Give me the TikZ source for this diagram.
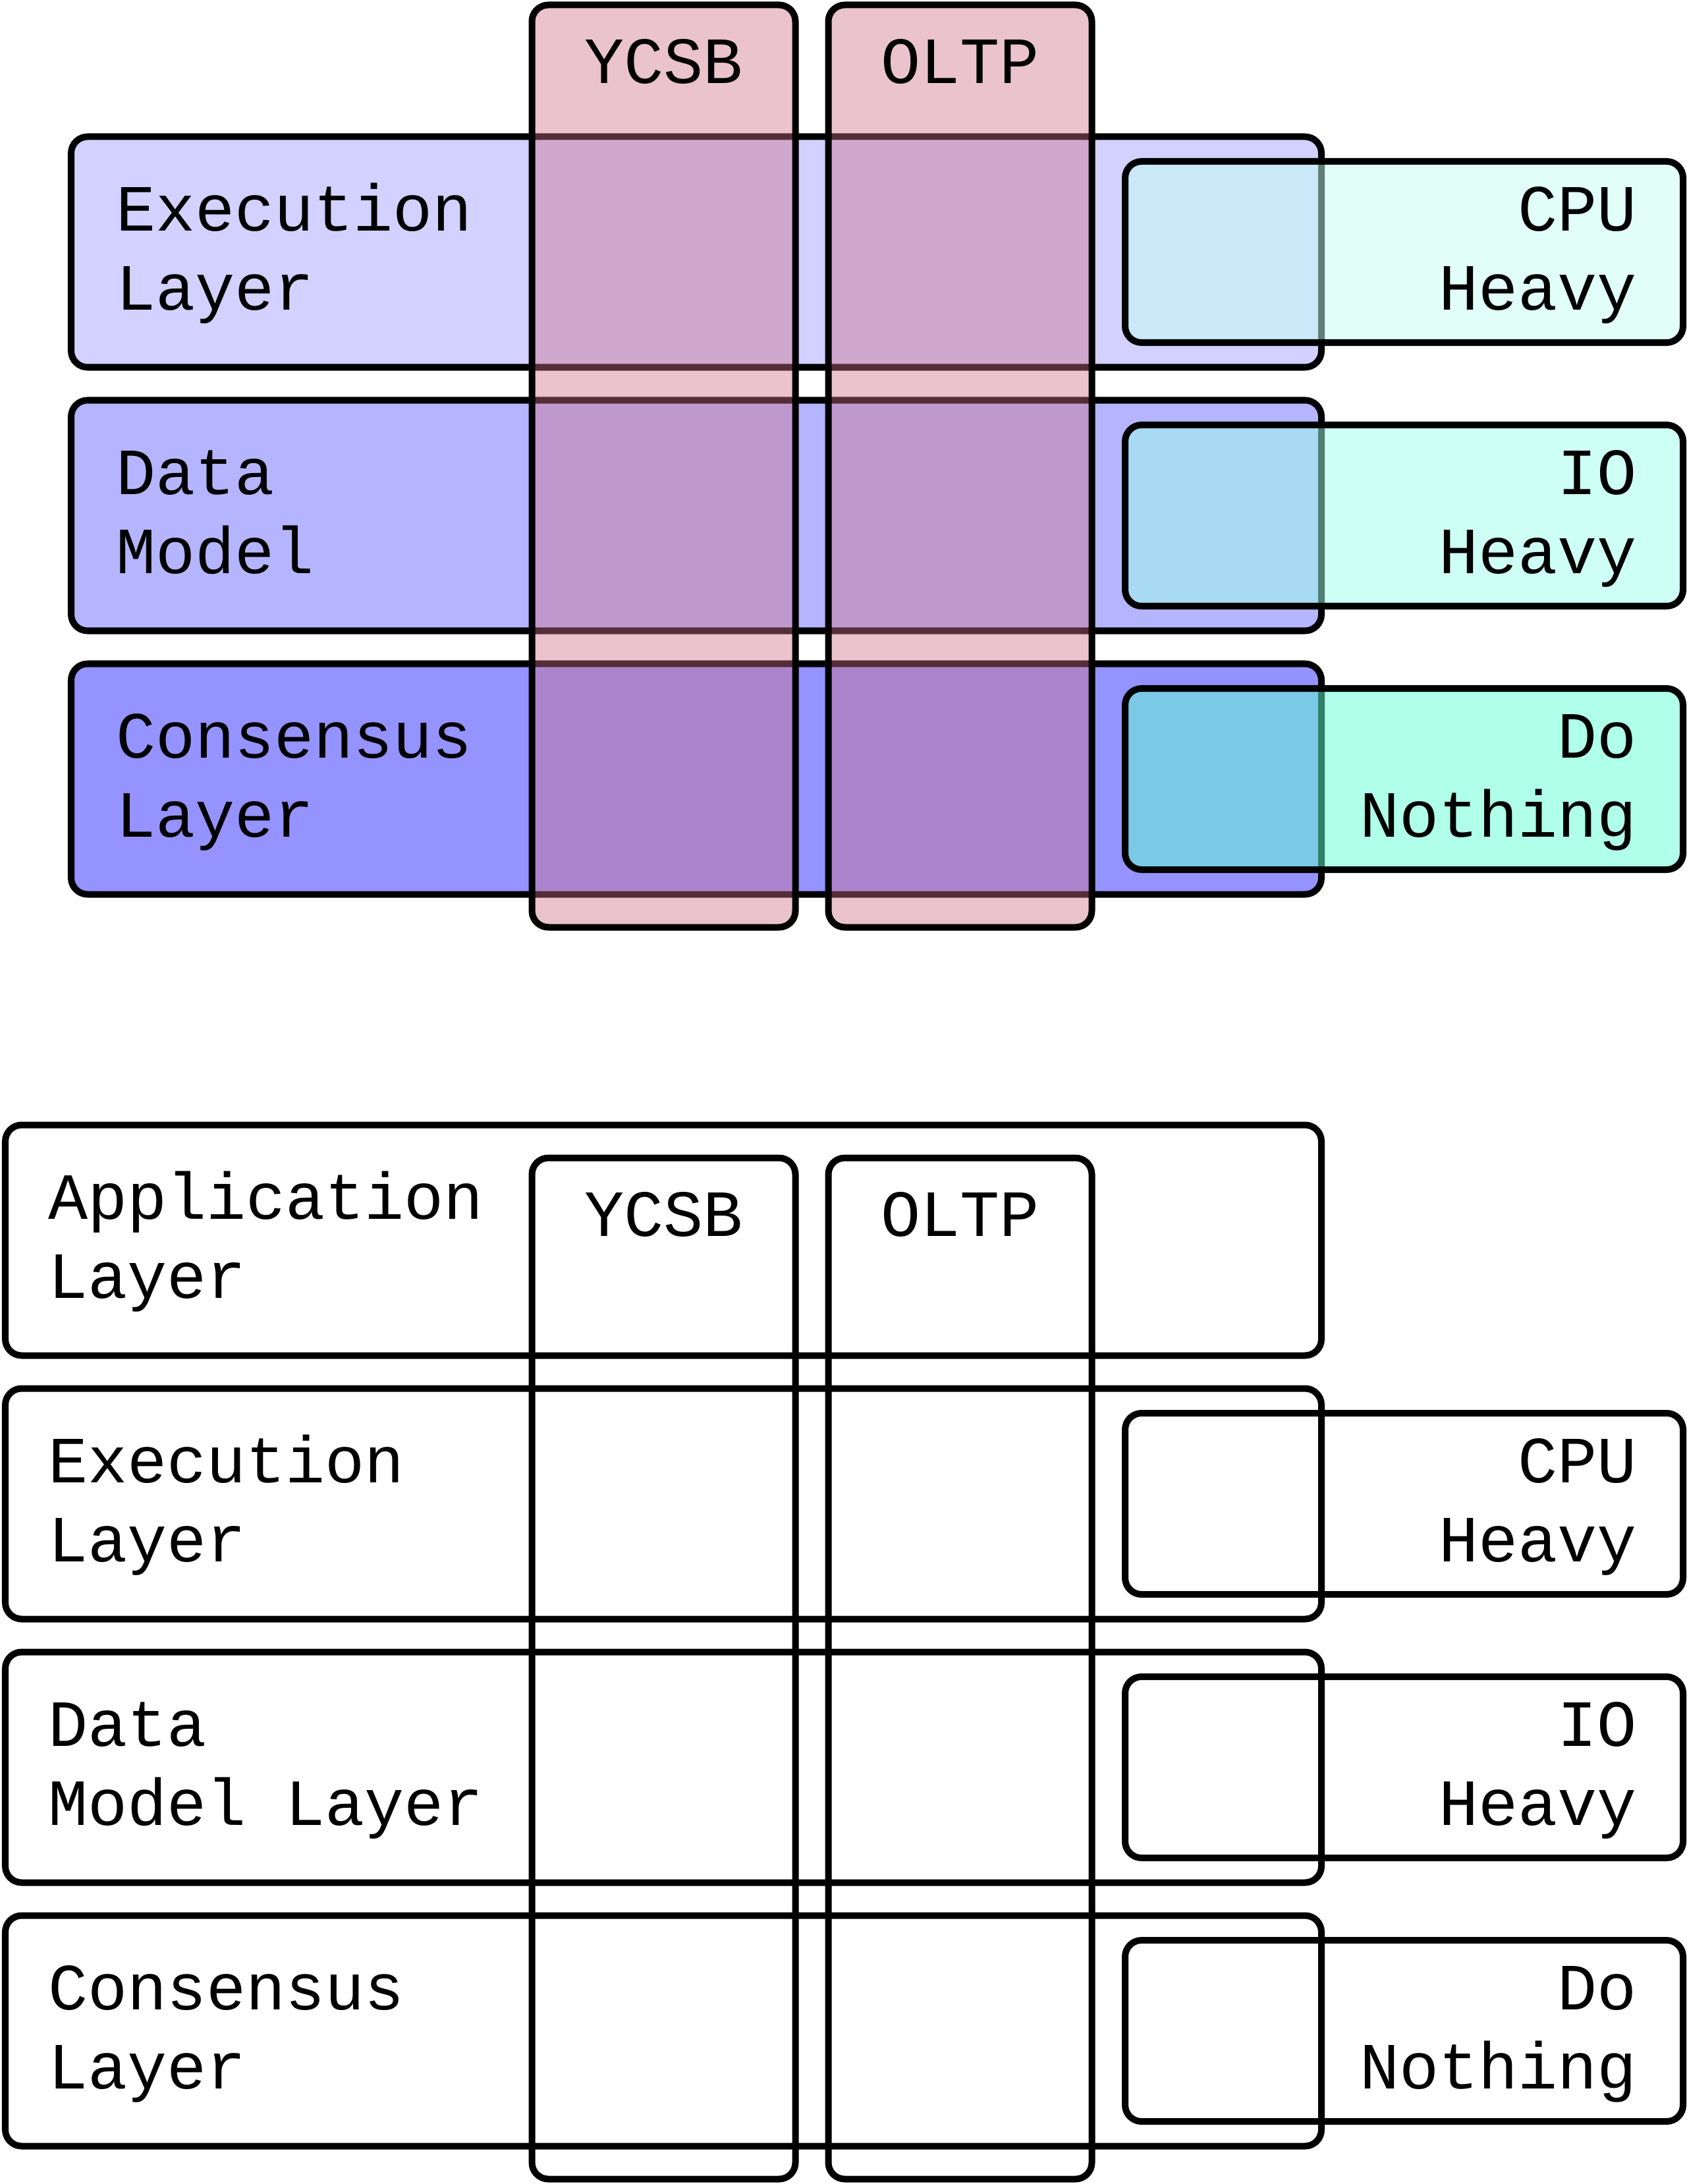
\documentclass[tikz,border=0pt]{standalone}
\usepackage{fontspec}
\setmonofont{Liberation Mono}
\usetikzlibrary{positioning}
\definecolor{LayerLight}{HTML}{D3D1FF}
\definecolor{LayerMid}{HTML}{B5B5FF}
\definecolor{LayerDark}{HTML}{9593FF}
\definecolor{BenchPink}{HTML}{CD7088}
\definecolor{LoadCPU}{HTML}{C3FFF1}
\definecolor{LoadIO}{HTML}{9DFFE9}
\definecolor{LoadNone}{HTML}{61FFD1}
\newcommand{\lblstrut}{\rule[-8.5pt]{0pt}{33pt}}
\tikzset{
  roundBox/.style={draw=black, line width=2.85pt, rounded corners=0.25cm, inner sep=0pt, outer sep=0pt},
  layerBox/.style={roundBox, minimum height=3.5cm},
  benchBox/.style={roundBox, minimum width=4cm},
  benchTop/.style={fill=BenchPink, fill opacity=0.42},
  loadBox/.style={roundBox, minimum width=8.47cm, minimum height=2.75cm},
  loadTop/.style={fill opacity=0.5},
  monoText/.style={font=\ttfamily\fontsize{28.5pt}{34.1pt}\selectfont, inner sep=0pt, outer sep=0pt},
  layerText/.style={monoText, text width=7.5cm, align=left, execute at begin node={\spaceskip=0pt\xspaceskip=0pt\relax\lblstrut}, execute at end node=\lblstrut},
  loadText/.style={layerText, align=right},
  benchText/.style={monoText}
}

\begin{document}
\begin{tikzpicture}
  \useasboundingbox (0,0) rectangle (25.6,-33.15);

  % Upper stack: layers
  \node[layerBox, minimum width=18.98cm, fill=LayerLight] (execT) at (10.57,-3.825) {};
  \node[layerBox, minimum width=18.98cm, fill=LayerMid, below=0.5cm of execT] (dataT) {};
  \node[layerBox, minimum width=18.98cm, fill=LayerDark, below=0.5cm of dataT] (consT) {};
  \node[layerText, right=0.68cm of execT.west] (execTL) {Execution\\Layer};
  \node[layerText, right=0.68cm of dataT.west] (dataTL) {Data\\Model};
  \node[layerText, right=0.68cm of consT.west] (consTL) {Consensus\\Layer};

  % Upper stack: benchmarks
  \node[benchBox, benchTop, minimum height=14cm] (ycsbT) at (10.075,-7.075) {};
  \node[benchBox, benchTop, minimum height=14cm, right=0.5cm of ycsbT] (oltpT) {};
  \node[benchText, below=0.52cm of ycsbT.north] (ycsbTL) {YCSB};
  \node[benchText, below=0.52cm of oltpT.north] (oltpTL) {OLTP};

  % Upper stack: workloads
  \node[loadBox, loadTop, fill=LoadCPU] (cpuT) at (21.315,-3.825) {};
  \node[loadBox, loadTop, fill=LoadIO] (ioT) at (21.315,-7.825) {};
  \node[loadBox, loadTop, fill=LoadNone] (nothingT) at (21.315,-11.825) {};
  \node[loadText, left=0.7cm of cpuT.east] (cpuTL) {CPU\\Heavy};
  \node[loadText, left=0.7cm of ioT.east] (ioTL) {IO\\Heavy};
  \node[loadText, left=0.7cm of nothingT.east] (nothingTL) {Do\\Nothing};

  % Lower stack: layers
  \node[layerBox, minimum width=19.98cm] (appB) at (10.07,-18.825) {};
  \node[layerBox, minimum width=19.98cm, below=0.5cm of appB] (execB) {};
  \node[layerBox, minimum width=19.98cm, below=0.5cm of execB] (dataB) {};
  \node[layerBox, minimum width=19.98cm, below=0.5cm of dataB] (consB) {};
  \node[layerText, right=0.65cm of appB.west] (appBL) {Application\\Layer};
  \node[layerText, right=0.65cm of execB.west] (execBL) {Execution\\Layer};
  \node[layerText, right=0.65cm of dataB.west] (dataBL) {Data\\Model Layer};
  \node[layerText, right=0.65cm of consB.west] (consBL) {Consensus\\Layer};

  % Lower stack: benchmarks
  \node[benchBox, minimum height=15.5cm] (ycsbB) at (10.075,-25.325) {};
  \node[benchBox, minimum height=15.5cm, right=0.5cm of ycsbB] (oltpB) {};
  \node[benchText, below=0.52cm of ycsbB.north] (ycsbBL) {YCSB};
  \node[benchText, below=0.52cm of oltpB.north] (oltpBL) {OLTP};

  % Lower stack: workloads
  \node[loadBox] (cpuB) at (21.315,-22.825) {};
  \node[loadBox] (ioB) at (21.315,-26.825) {};
  \node[loadBox] (nothingB) at (21.315,-30.825) {};
  \node[loadText, left=0.7cm of cpuB.east] (cpuBL) {CPU\\Heavy};
  \node[loadText, left=0.7cm of ioB.east] (ioBL) {IO\\Heavy};
  \node[loadText, left=0.7cm of nothingB.east] (nothingBL) {Do\\Nothing};
\end{tikzpicture}
\end{document}
